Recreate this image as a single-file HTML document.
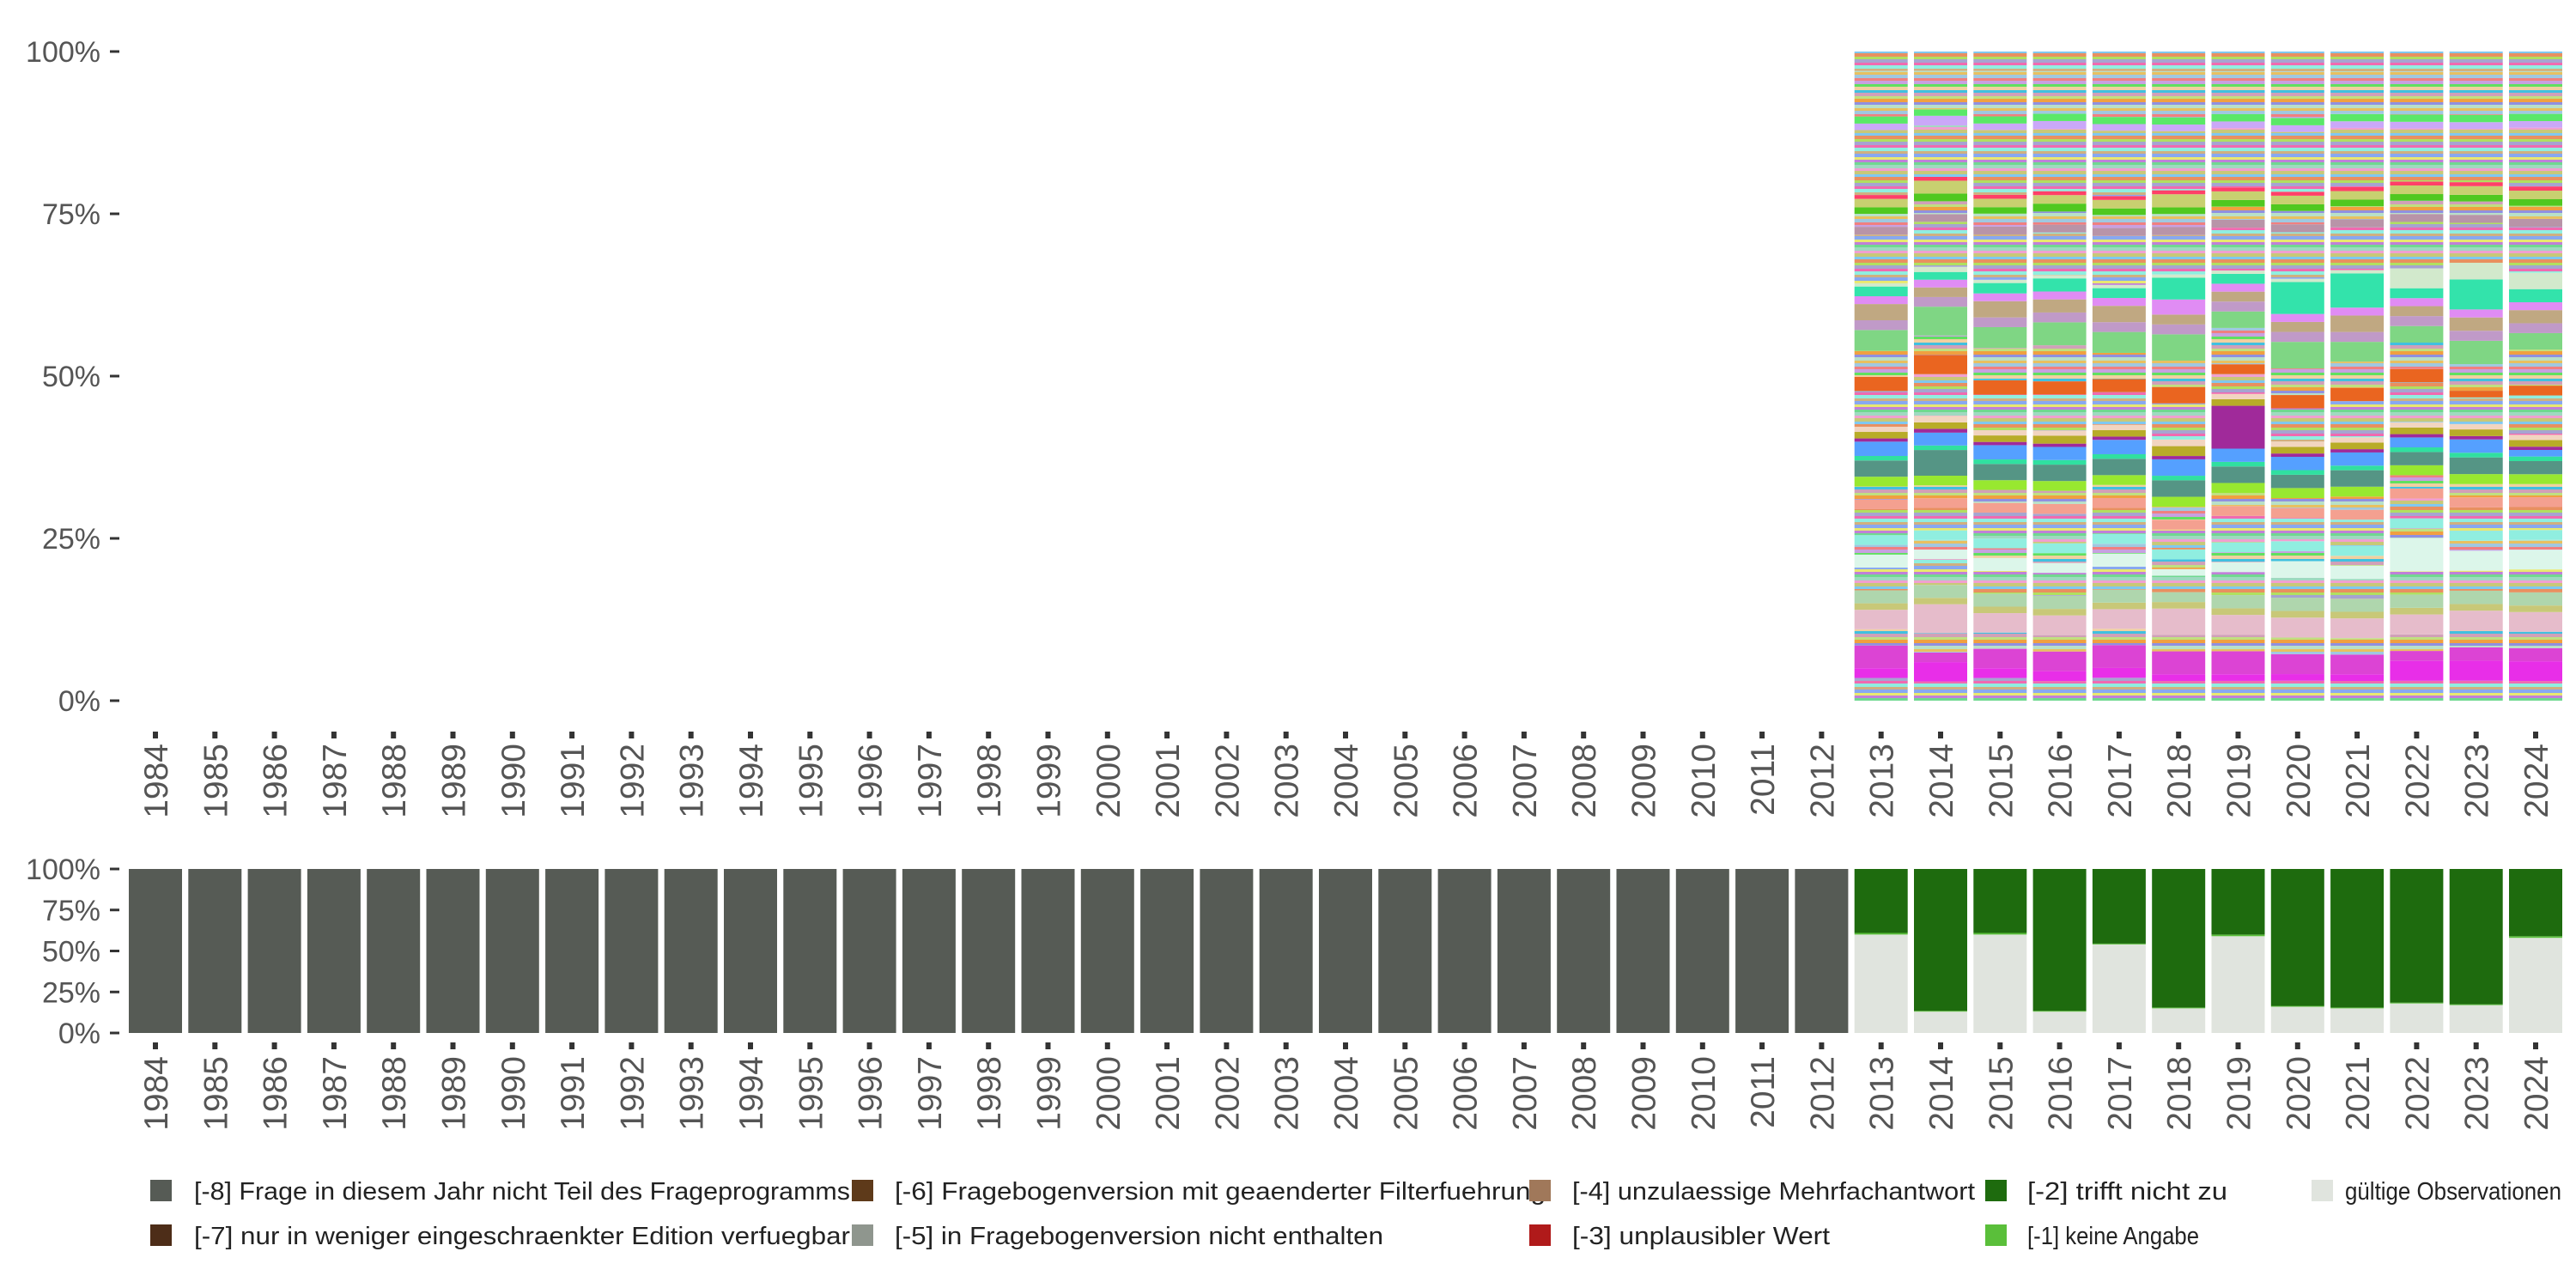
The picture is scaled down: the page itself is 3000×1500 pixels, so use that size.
<!DOCTYPE html>
<html><head><meta charset="utf-8">
<style>
html,body{margin:0;padding:0;background:#fff;}
svg{display:block;font-family:"Liberation Sans","DejaVu Sans",sans-serif;}
</style></head>
<body>
<svg id="chart" width="3000" height="1500" viewBox="0 0 3000 1500" xmlns="http://www.w3.org/2000/svg">
<defs>
<pattern id="mixA" patternUnits="userSpaceOnUse" width="10" height="48">
<rect width="10" height="4" y="0" fill="#9fd9c0"/><rect width="10" height="3" y="4" fill="#f0a0d0"/><rect width="10" height="4" y="7" fill="#c8c878"/><rect width="10" height="3" y="11" fill="#80c8f0"/><rect width="10" height="4" y="14" fill="#e89060"/><rect width="10" height="3" y="18" fill="#b0e060"/><rect width="10" height="4" y="21" fill="#a6a4d0"/><rect width="10" height="3" y="25" fill="#f06ab0"/><rect width="10" height="4" y="28" fill="#90eee0"/><rect width="10" height="3" y="32" fill="#d0b080"/><rect width="10" height="4" y="35" fill="#88a8f0"/><rect width="10" height="3" y="39" fill="#e8e870"/><rect width="10" height="3" y="42" fill="#c080d8"/><rect width="10" height="3" y="45" fill="#70d890"/>
</pattern>
<pattern id="mixB" patternUnits="userSpaceOnUse" width="10" height="42">
<rect width="10" height="3" y="0" fill="#e8c060"/><rect width="10" height="4" y="3" fill="#a0c8e0"/><rect width="10" height="3" y="7" fill="#f08080"/><rect width="10" height="4" y="10" fill="#c8a0e0"/><rect width="10" height="3" y="14" fill="#60e060"/><rect width="10" height="4" y="17" fill="#f0d0a0"/><rect width="10" height="3" y="21" fill="#40c0e0"/><rect width="10" height="4" y="24" fill="#d0a0b8"/><rect width="10" height="3" y="28" fill="#c0e080"/><rect width="10" height="4" y="31" fill="#f0a040"/><rect width="10" height="3" y="35" fill="#9090e0"/><rect width="10" height="4" y="38" fill="#b8e0c8"/>
</pattern>
</defs>
<g id="top-panel"></g>
<g id="bottom-panel"></g>
<g id="legend"></g>
</svg>
<script>
const years = [];
for (let y = 1984; y <= 2024; y++) years.push(y);
const detailYears = [2013,2014,2015,2016,2017,2018,2019,2020,2021,2022,2023,2024];
const categoryColors = ["url(#mixA)","#e82ee8","#dc44d4","url(#mixB)","#e6bccb","#c8c878","#afd6ad","url(#mixA)","#dcf6ea","url(#mixB)",
 "#90eee0","url(#mixA)","#f4a090","url(#mixB)","#98e830","#559585","#30e0a0","#55a0ff","#a02a9a","#b8ac28",
 "#f2d5c0","url(#mixA)","#ea6520","url(#mixB)","#7fd684","#c09ac8","#c0a882","#e08cf4","#33e3ab","#d2e9cc",
 "url(#mixA)","#b894a8","url(#mixB)","#50c820","#c8d070","#ff4068","url(#mixA)","#caa8f8","#5ae868","url(#mixB)","url(#mixA)"];
const v2013 = [3.5,1.5,3.5,2.5,3,1,2,3.5,2,1.5, 1.5,4,1.5,2,1.5,2.5,0.7,2.2,0.5,1, 0.8,5.5,2.2,4,3.2,1.5,2.5,1.2,1.5,0.5, 7.5,1.2,2,1,1.3,0.6,10,1,1.1,7,3];
const v2014 = [3,3,1.5,3,4.5,1,2,4,1.5,1.5, 1.5,3.5,1.5,2,1.5,4,0.7,2,0.6,1, 1,6.5,3,3,4.5,1.5,1.5,1.2,1.2,0.8, 7,1.2,2,1.2,2,0.6,8,1.5,1,6,3];
const v2015 = [3.5,1.5,3,2.5,3,1,2,3.5,2,1.5, 1.5,4,1.5,2,1.5,2.5,0.7,2.2,0.5,1, 0.8,5.5,2.2,5,3.2,1.5,2.5,1.2,1.6,0.5, 7,1.2,2,1,1.3,0.6,10,1,1.1,7,3];
const v2016 = [3,1.5,3,2.5,3,1,2,3.5,1.5,1.5, 1.5,4.5,1.5,2,1.5,2.5,0.7,2,0.5,1.2, 0.8,5.5,2,5.5,3.5,1.5,2,1.2,2,0.5, 6.5,1.2,2,1.2,1.3,0.6,9.5,1.2,1.1,6.5,3];
const v2017 = [3.5,1.5,3.5,2.5,3,1,2,3.5,2,1.5, 1.5,4,1.5,2,1.5,2.5,0.7,2.2,0.5,1, 0.8,5,2,4,3.2,1.5,2.5,1.2,1.5,0.5, 7.5,1.2,2,1,1.3,0.6,10,1,1.1,7,3];
const v2018 = [3,1,3.5,2.5,4,1,1.5,2.5,1,1.5, 1.5,3,1.5,2,1.5,2.5,0.7,2.5,0.5,1.5, 1,5.5,2.5,4,4,1.5,1.5,2.3,3.3,0.5, 6,1.2,2,1,2,0.6,9,1,1.1,7,3];
const v2019 = [3,1,3.5,2.5,3,1,2,3.5,1.5,1.5, 1.5,4,1.5,2,1.5,2.5,0.7,2,6.5,1, 0.8,3,1.5,5.5,2.5,1.5,1.5,1.2,1.5,0.5, 6.5,1.2,2,1,1.3,0.6,9,1,1.1,6.5,3];
const v2020 = [3,1,3,2.5,3,1,2,3,2.5,1.5, 1.5,3.5,1.5,1.5,1.5,2,0.7,2,0.5,1, 0.8,5,2,4,4,1.5,1.5,1.2,4.8,0.5, 7,1.2,2,1,1.3,0.6,9,1,1.1,7,3];
const v2021 = [3,1,3,2.5,3,1,2,3,2,1.5, 1.5,4,1.5,2,1.5,2.5,0.7,2,0.5,1, 0.8,5.5,2,4,3,1.5,2.5,1.2,5.2,0.5, 6.5,1.2,2,1,1.3,0.6,9,1,1.1,6.5,3];
const v2022 = [3,3,1.5,2.5,3,1,2,3.5,5,1.5, 1.5,3,1.5,2,1.5,2,0.7,1.5,0.5,1, 0.8,6,2,4,2.5,1.5,1.5,1.2,1.5,3, 7,1.2,2,1,1.3,0.6,8,1,1.1,6.5,3];
const v2023 = [3,3,2,2.5,3,1,2,3,3,1.5, 1.5,3.5,1.5,2,1.5,2.5,0.7,2,0.5,1, 0.8,4,1,4,3.5,1.5,2,1.2,4.5,2.5, 6,1.2,2,1,1.3,0.6,8,1,1.1,6.5,3];
const v2024 = [3,3,2,2.5,3,1,2,3.5,3,1.5, 1.5,3.5,1.5,2,1.5,2,0.7,1,0.5,1, 0.8,6,1.5,5.5,2.5,1.5,2,1.2,2,2.5, 7,1.2,2,1,1.3,0.6,9,1,1.1,6.5,3];
const detailValues = [v2013,v2014,v2015,v2016,v2017,v2018,v2019,v2020,v2021,v2022,v2023,v2024];
const validShare = [60,13,60,13,54,15,59,16,15,18,17,58];
const noAnswerShare = [1,0.5,1,0.5,0.5,0.5,1,0.5,0.5,0.5,0.5,1];
const yTicks = [0,25,50,75,100];
const yTickLabels = ["0%","25%","50%","75%","100%"];
const legendLabels = ["[-8] Frage in diesem Jahr nicht Teil des Frageprogramms","[-7] nur in weniger eingeschraenkter Edition verfuegbar","[-6] Fragebogenversion mit geaenderter Filterfuehrung","[-5] in Fragebogenversion nicht enthalten","[-4] unzulaessige Mehrfachantwort","[-3] unplausibler Wert","[-2] trifft nicht zu","[-1] keine Angabe","gültige Observationen"];
const legendColors = ["#565b55","#4d2d18","#5e3a1a","#8f968e","#a0785a","#b01a1a","#1e6b0e","#5abf3a","#e0e4de"];

const NS = "http://www.w3.org/2000/svg";
function mk(tag, attrs, parent){const e=document.createElementNS(NS,tag);for(const k in attrs)e.setAttribute(k,attrs[k]);parent.appendChild(e);return e;}
const xLeft = i => 150 + i*69.3;
const barW = 62;
const topY = v => 816 - v/100*756;
const botY = v => 1203 - v/100*191;

function drawAxes(g, yf, tickLabY, tickMarkY){
  yTicks.forEach((t,i)=>{
    const tk = mk("line",{x1:128,x2:139,y1:yf(t),y2:yf(t),stroke:"#333","stroke-width":3},g);
    
    
    const tx = mk("text",{x:117,y:yf(t)+12,"text-anchor":"end","font-size":34,fill:"#555"},g);
    tx.textContent = yTickLabels[i];
    
    
  });
  years.forEach((yr,i)=>{
    const cx = xLeft(i)+barW/2;
    const m = mk("rect",{x:cx-3,y:tickMarkY,width:6,height:8,fill:"#333"},g);
    
    
    const t = mk("text",{x:0,y:0,"text-anchor":"end","font-size":39,fill:"#555",transform:`translate(${cx+14},${tickLabY}) rotate(-90)`},g);
    t.textContent = yr;
    
    
  });
}

const topG = document.getElementById("top-panel");
drawAxes(topG, topY, 866, 852);
detailYears.forEach((yr,j)=>{
  const i = years.indexOf(yr);
  const vals = detailValues[j];
  const tot = vals.reduce((a,b)=>a+b,0);
  let acc = 0;
  vals.forEach((v,k)=>{
    const p0 = acc/tot*100, p1=(acc+v)/tot*100; acc+=v;
    const r = mk("rect",{x:xLeft(i),y:topY(p1),width:barW,height:topY(p0)-topY(p1),fill:categoryColors[k]},topG);
    
    
  });
});

const botG = document.getElementById("bottom-panel");
drawAxes(botG, botY, 1230, 1214);
years.forEach((yr,i)=>{
  const j = detailYears.indexOf(yr);
  if (j<0){
    const r = mk("rect",{x:xLeft(i),y:botY(100),width:barW,height:botY(0)-botY(100),fill:legendColors[0]},botG);
    
    
  } else {
    const v = validShare[j], n = noAnswerShare[j];
    const a = mk("rect",{x:xLeft(i),y:botY(v),width:barW,height:botY(0)-botY(v),fill:legendColors[8]},botG);
    
    
    const b = mk("rect",{x:xLeft(i),y:botY(v+n),width:barW,height:botY(v)-botY(v+n),fill:legendColors[7]},botG);
    
    
    const c = mk("rect",{x:xLeft(i),y:botY(100),width:barW,height:botY(v+n)-botY(100),fill:legendColors[6]},botG);
    
    
  }
});

const lg = document.getElementById("legend");
const colSw = [175,992,1781,2312,2692];
const colTx = [226,1042,1831,2361,2731];
const rowY = [1387,1439];
const txW = [764,764,758,569,469,300,233,200,252];
legendLabels.forEach((lab,k)=>{
  const col = Math.floor(k/2), row = k%2;
  const s = mk("rect",{x:colSw[col],y:rowY[row]-13,width:25,height:25,fill:legendColors[k]},lg);
  
  
  const t = mk("text",{x:colTx[col],y:rowY[row]+10,"font-size":29,fill:"#222",textLength:txW[k],lengthAdjust:"spacingAndGlyphs"},lg);
  t.textContent = lab;
  
  
});
</script>
</body></html>
